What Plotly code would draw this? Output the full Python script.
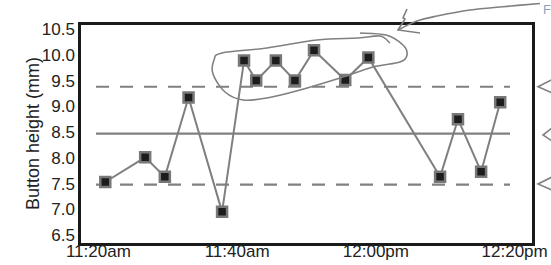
import plotly.graph_objects as go

# ---- data ----
day = "2024-01-01 "
times = ["11:21:00", "11:26:45", "11:29:35", "11:33:00", "11:37:50", "11:41:00",
         "11:42:45", "11:45:35", "11:48:20", "11:51:05", "11:55:35", "11:58:55",
         "12:09:15", "12:11:50", "12:15:10", "12:17:55"]
heights = [7.53, 8.01, 7.63, 9.17, 6.95, 9.89, 9.50, 9.89, 9.50, 10.09, 9.51, 9.95,
           7.63, 8.75, 7.73, 9.08]
mean_line = 8.47
upper_limit = 9.38
lower_limit = 7.48
limit_span = ["11:19:40", "12:19:20"]
x_tick_vals = ["11:20:00", "11:40:00", "12:00:00", "12:20:00"]
x_tick_text = ["11:20am", "11:40am", "12:00pm", "12:20pm"]
y_tick_vals = [6.5, 7.0, 7.5, 8.0, 8.5, 9.0, 9.5, 10.0, 10.5]
y_tick_text = ["6.5", "7.0", "7.5", "8.0", "8.5", "9.0", "9.5", "10.0", "10.5"]

FONT = "Liberation Sans, Arial, sans-serif"
W, H = 551, 265
L, R, T, B = 81, 19, 25, 22
PW, PH = W - L - R, H - T - B


def px(x, y):
    return (x - L) / PW, (H - B - y) / PH


def smooth_path(pts):
    # Catmull-Rom through hand-drawn guide points -> cubic bezier path (paper coords)
    P = [px(*p) for p in pts]
    d = "M %.4f %.4f" % P[0]
    for i in range(len(P) - 1):
        p0 = P[i - 1] if i > 0 else P[i]
        p1, p2 = P[i], P[i + 1]
        p3 = P[i + 2] if i + 2 < len(P) else P[i + 1]
        c1 = (p1[0] + (p2[0] - p0[0]) / 6, p1[1] + (p2[1] - p0[1]) / 6)
        c2 = (p2[0] - (p3[0] - p1[0]) / 6, p2[1] - (p3[1] - p1[1]) / 6)
        d += " C %.4f %.4f %.4f %.4f %.4f %.4f" % (c1 + c2 + p2)
    return d


def poly_path(pts):
    P = [px(*p) for p in pts]
    return "M " + " L ".join("%.4f %.4f" % p for p in P)


fig = go.Figure()
fig.add_trace(go.Scatter(
    x=[day + t for t in times], y=heights, mode="lines+markers",
    line=dict(color="#7f7f7f", width=2),
    marker=dict(symbol="square", size=10, color="#1c1c1c",
                line=dict(color="#787878", width=2.5)),
    showlegend=False, cliponaxis=False))

shapes = []
for val, dash in [(mean_line, "solid"), (upper_limit, "13px,11px"), (lower_limit, "13px,11px")]:
    shapes.append(dict(type="line", xref="x", yref="y", layer="below",
                       x0=day + limit_span[0], x1=day + limit_span[1], y0=val, y1=val,
                       line=dict(color="#808080", width=2.2, dash=dash)))

sketch = dict(color="#808080", width=1.6)
ellipse = [(360, 33), (386, 35), (403, 45), (407, 55), (400, 62), (373, 67), (340, 78),
           (300, 90), (267, 98), (243, 100), (225, 92), (213, 74), (214, 60), (222, 53),
           (267, 48), (317, 40), (358, 38), (380, 36), (390, 43)]
shapes.append(dict(type="path", xref="paper", yref="paper", path=smooth_path(ellipse), line=sketch))
shaft = [(540, 3.5), (503, 6.7), (470, 10), (437, 16), (417, 21), (398, 30)]
shapes.append(dict(type="path", xref="paper", yref="paper", path=smooth_path(shaft), line=sketch))
shapes.append(dict(type="path", xref="paper", yref="paper",
                   path=poly_path([(407, 9), (403, 18), (405, 19), (398, 30), (420, 33)]), line=sketch))
for tip_x, tip_y in [(538, 86.7), (543, 135), (538, 184)]:
    shapes.append(dict(type="path", xref="paper", yref="paper",
                       path=poly_path([(552, tip_y - 7), (tip_x, tip_y), (552, tip_y + 6)]),
                       line=sketch))

fig.update_layout(
    width=W, height=H, margin=dict(l=L, r=R, t=T, b=B),
    paper_bgcolor="white", plot_bgcolor="white",
    font=dict(family=FONT, size=17, color="#222222"),
    shapes=shapes,
    annotations=[
        dict(text="Button height (mm)", textangle=-90, xref="paper", yref="paper",
             x=px(33, 0)[0], y=px(0, 134)[1], xanchor="center", yanchor="middle",
             showarrow=False, font=dict(size=18, color="#222222")),
        dict(text="F", xref="paper", yref="paper", x=px(541, 0)[0], y=px(0, 9)[1],
             xanchor="left", yanchor="middle", showarrow=False,
             font=dict(size=13, color="#8aa4c0")),
    ],
    xaxis=dict(range=[day + "11:17:30", day + "12:22:30"], type="date",
               tickvals=[day + t for t in x_tick_vals], ticktext=x_tick_text,
               showgrid=False, zeroline=False, showline=True, mirror=True,
               linecolor="#1a1a1a", linewidth=2.5, ticks="", automargin=False,
               ticklabelstandoff=-9),
    yaxis=dict(range=[6.345, 10.58], tickvals=y_tick_vals, ticktext=y_tick_text,
               showgrid=False, zeroline=False, showline=True, mirror=True,
               linecolor="#1a1a1a", linewidth=2.5, ticks="", automargin=False),
)

fig.write_html("out.html")
